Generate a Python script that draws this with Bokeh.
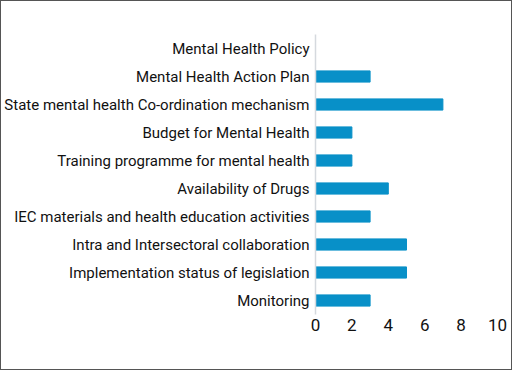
from bokeh.plotting import figure
from bokeh.models import FactorRange
from bokeh.embed import file_html
from bokeh.resources import INLINE

categories = [
    "Mental Health Policy",
    "Mental Health Action Plan",
    "State mental health Co-ordination mechanism",
    "Budget for Mental Health",
    "Training programme for mental health",
    "Availability of Drugs",
    "IEC materials and health education activities",
    "Intra and Intersectoral collaboration",
    "Implementation status of legislation",
    "Monitoring",
]
values = [0, 3, 7, 2, 2, 4, 3, 5, 5, 3]
x_ticks = [0, 2, 4, 6, 8, 10]

FONT = "Roboto"

p = figure(
    width=512, height=370,
    y_range=FactorRange(*list(reversed(categories)), range_padding=0),
    x_range=(0, 10),
    output_backend="svg", toolbar_location=None,
    min_border_left=306, min_border_right=16,
    min_border_top=33, min_border_bottom=57,
)
p.styles = {"border": "1.5px solid #555555"}
p.hbar(y=categories, right=values, left=0, height=0.4, color="#0890C8")

p.outline_line_color = None
p.xgrid.grid_line_color = None
p.ygrid.grid_line_color = None

p.xaxis.ticker = x_ticks
p.xaxis.axis_line_color = None
p.xaxis.major_tick_line_color = None
p.xaxis.minor_tick_line_color = None
p.xaxis.major_tick_out = 0
p.xaxis.major_tick_in = 0
p.xaxis.major_label_text_font = FONT
p.xaxis.major_label_text_font_size = "17px"
p.xaxis.major_label_text_color = "#111111"
p.xaxis.major_label_standoff = 4

p.yaxis.axis_line_color = "#D5D9DE"
p.yaxis.axis_line_width = 1.5
p.yaxis.major_tick_line_color = None
p.yaxis.minor_tick_line_color = None
p.yaxis.major_tick_out = 0
p.yaxis.major_tick_in = 0
p.yaxis.major_label_text_font = FONT
p.yaxis.major_label_text_font_size = "15px"
p.yaxis.major_label_text_color = "#111111"
p.yaxis.major_label_standoff = 6

open("out.html", "w").write(file_html(p, INLINE))
